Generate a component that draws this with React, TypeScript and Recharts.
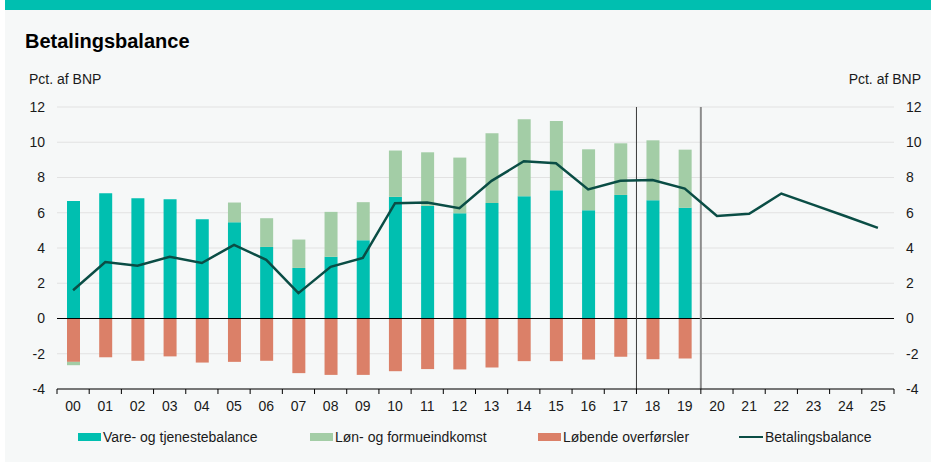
import { ComposedChart, Bar, Line, XAxis, YAxis, CartesianGrid, ReferenceLine } from 'recharts'

// Betalingsbalance, pct. af BNP (2000-2019 faktisk, 2020-2025 fremskrivning)
const years = ['00', '01', '02', '03', '04', '05', '06', '07', '08', '09', '10', '11', '12', '13', '14', '15', '16', '17', '18', '19', '20', '21', '22', '23', '24', '25']

const vareTjeneste = [6.67, 7.1, 6.82, 6.77, 5.63, 5.46, 4.06, 2.87, 3.5, 4.44, 6.9, 6.39, 5.97, 6.56, 6.94, 7.28, 6.14, 7.01, 6.71, 6.28]
const loenFormue = [-0.19, 0, 0, 0, 0, 1.12, 1.63, 1.61, 2.55, 2.16, 2.63, 3.04, 3.16, 3.95, 4.36, 3.93, 3.46, 2.93, 3.4, 3.3]
const loebende = [-2.46, -2.2, -2.4, -2.15, -2.5, -2.46, -2.4, -3.1, -3.2, -3.2, -2.99, -2.87, -2.89, -2.78, -2.42, -2.42, -2.33, -2.17, -2.31, -2.27]
const betalingsbalance = [1.6, 3.2, 3.0, 3.5, 3.15, 4.18, 3.33, 1.44, 2.93, 3.44, 6.54, 6.58, 6.26, 7.81, 8.92, 8.81, 7.32, 7.81, 7.86, 7.37, 5.82, 5.94, 7.09, 6.45, 5.8, 5.14]

const yTicks = [-4, -2, 0, 2, 4, 6, 8, 10, 12]

const data = years.map((year, i) => ({
  year,
  vare: vareTjeneste[i] ?? null,
  loebende: loebende[i] ?? null,
  loen: loenFormue[i] ?? null,
  balance: betalingsbalance[i],
}))

// farver
const TEAL = '#00bfb0'
const GREEN = '#a3cda6'
const SALMON = '#db8068'
const DARK = '#0a4d45'
const FONT = "'Liberation Sans', Arial, sans-serif"

// layout (plot fra x=57 til 894, y=107 til 389)
const PLOT_LEFT = 57
const PLOT_RIGHT = 894
const PLOT_BOTTOM = 389
const BAND = (PLOT_RIGHT - PLOT_LEFT) / years.length

function YearTick(props: any) {
  const { x, y, payload, index } = props
  const half = BAND / 2
  return (
    <g>
      <line x1={x - half} x2={x - half} y1={PLOT_BOTTOM} y2={PLOT_BOTTOM + 5} stroke="#000" />
      {index === years.length - 1 && (
        <line x1={x + half} x2={x + half} y1={PLOT_BOTTOM} y2={PLOT_BOTTOM + 5} stroke="#000" />
      )}
      <text x={x} y={y} dy="0.71em" textAnchor="middle" fontSize={14} fill="#1a1a1a" fontFamily={FONT}>
        {payload.value}
      </text>
    </g>
  )
}

const legendItems = [
  { label: 'Vare- og tjenestebalance', color: TEAL, left: 78, type: 'bar' },
  { label: 'Løn- og formueindkomst', color: GREEN, left: 310, type: 'bar' },
  { label: 'Løbende overførsler', color: SALMON, left: 538, type: 'bar' },
  { label: 'Betalingsbalance', color: DARK, left: 739, type: 'line' },
]

export default function App() {
  return (
    <div style={{ position: 'absolute', left: 0, top: 0, width: 931, height: 462, background: '#fff', fontFamily: FONT, overflow: 'hidden' }}>
      <div style={{ position: 'absolute', left: 5, top: 0, right: 0, bottom: 0, background: '#f6f8f8' }} />
      <div style={{ position: 'absolute', left: 5, top: 0, right: 0, height: 10, background: TEAL }} />

      <div style={{ position: 'absolute', left: 25, top: 29, fontSize: 20, lineHeight: '24px', fontWeight: 'bold', color: '#000' }}>
        Betalingsbalance
      </div>
      <div style={{ position: 'absolute', left: 29, top: 71, fontSize: 14, lineHeight: '16px', color: '#1a1a1a' }}>
        Pct. af BNP
      </div>
      <div style={{ position: 'absolute', right: 10, top: 71, fontSize: 14, lineHeight: '16px', color: '#1a1a1a' }}>
        Pct. af BNP
      </div>

      <div style={{ position: 'absolute', left: 0, top: 0 }}>
        <ComposedChart
          width={931}
          height={420}
          data={data}
          stackOffset="sign"
          barSize={13}
          margin={{ top: 107, right: 7, bottom: 5, left: 17 }}
          style={{ fontFamily: FONT }}
        >
          <CartesianGrid vertical={false} stroke="#e2e2e2" />
          <XAxis
            dataKey="year"
            interval={0}
            height={26}
            tickSize={0}
            tickMargin={12}
            tickLine={false}
            axisLine={{ stroke: '#000' }}
            tick={<YearTick />}
          />
          <YAxis
            width={40}
            domain={[-4, 12]}
            ticks={yTicks}
            tickSize={0}
            tickMargin={12}
            axisLine={false}
            tickLine={false}
            tick={{ fontSize: 14, fill: '#1a1a1a' }}
          />
          <YAxis
            yAxisId="right"
            orientation="right"
            width={30}
            domain={[-4, 12]}
            ticks={yTicks}
            tickSize={0}
            tickMargin={12}
            axisLine={false}
            tickLine={false}
            tick={{ fontSize: 14, fill: '#1a1a1a', textAnchor: 'start' }}
          />
          <Bar dataKey="vare" stackId="a" fill={TEAL} isAnimationActive={false} />
          <Bar dataKey="loebende" stackId="a" fill={SALMON} isAnimationActive={false} />
          <Bar dataKey="loen" stackId="a" fill={GREEN} isAnimationActive={false} />
          <ReferenceLine y={0} stroke="#000" strokeWidth={1} />
          <ReferenceLine x="18" position="start" stroke="#3a3a3a" strokeWidth={1} />
          <ReferenceLine x="20" position="start" stroke="#8c8c8c" strokeWidth={2} />
          {/* linjen på højre akse (samme skala) så aksen tegnes */}
          <Line
            yAxisId="right"
            dataKey="balance"
            stroke={DARK}
            strokeWidth={2.5}
            dot={false}
            activeDot={false}
            isAnimationActive={false}
          />
        </ComposedChart>
      </div>

      {legendItems.map((item) => (
        <div
          key={item.label}
          style={{ position: 'absolute', left: item.left, top: 429, height: 16, display: 'flex', alignItems: 'center', fontSize: 14, lineHeight: '16px', color: '#1a1a1a', whiteSpace: 'nowrap' }}
        >
          <span
            style={{
              display: 'inline-block',
              width: item.type === 'line' ? 24 : 23,
              height: item.type === 'line' ? 2 : 8,
              background: item.color,
              marginRight: 2,
            }}
          />
          {item.label}
        </div>
      ))}
    </div>
  )
}
